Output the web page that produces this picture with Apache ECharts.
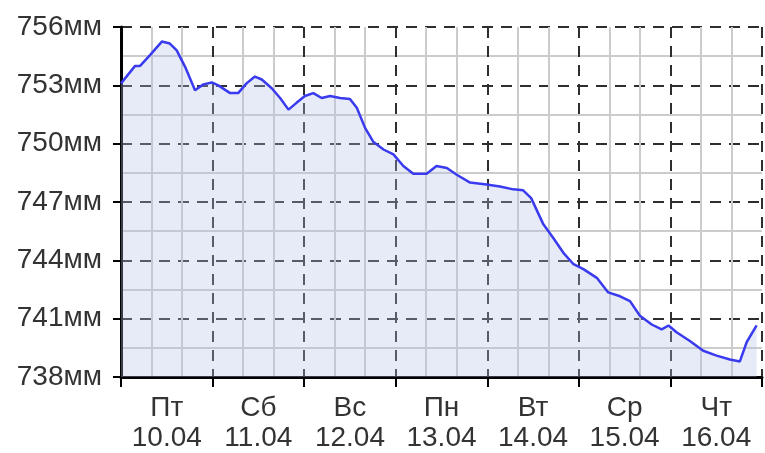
<!DOCTYPE html>
<html>
<head>
<meta charset="utf-8">
<script src="https://cdn.jsdelivr.net/npm/echarts@6/dist/echarts.min.js"></script>
<style>
  html, body { margin: 0; padding: 0; background: #fff; }
  #main { width: 765px; height: 453px; }
</style>
</head>
<body>
<div id="main"></div>
<script>
// hours from 10.04 00:00
const hours = [0, 3.7, 5, 7.6, 10.7, 12.8, 14.6, 16.8, 19.4, 21.6, 23.8, 25.5, 28.6, 30.7, 32.9, 35.1, 36.9,
  39.5, 41.7, 43.9, 46, 48.2, 50.4, 52.6, 54.8, 57.4, 60, 61.8, 64, 66.1, 68.8, 71.4, 74, 76.6, 80.1,
  82.7, 85.4, 88, 91.5, 95.8, 99.3, 102.8, 105.4, 107.5, 110.7, 113.3, 115.9, 118.6, 121.2, 124.7,
  127.7, 130.8, 133.4, 136, 139.1, 141.7, 143.5, 145.6, 149.1, 152.6, 156.1, 159.6, 162.2, 164, 166.6]
const pressure = [753.1, 754.0, 754.0, 754.55, 755.25, 755.15, 754.8, 753.95, 752.75, 753.05, 753.15, 753.0,
  752.6, 752.6, 753.1, 753.45, 753.3, 752.85, 752.35, 751.75, 752.1, 752.45, 752.6, 752.35, 752.45,
  752.35, 752.3, 751.85, 750.8, 750.1, 749.7, 749.45, 748.85, 748.45, 748.45, 748.85, 748.75, 748.4,
  748.0, 747.9, 747.8, 747.65, 747.6, 747.2, 745.85, 745.15, 744.4, 743.8, 743.55, 743.1, 742.35,
  742.15, 741.9, 741.15, 740.7, 740.45, 740.65, 740.3, 739.85, 739.35, 739.1, 738.9, 738.8, 739.8, 740.65]
const dayNames = ['Пт', 'Сб', 'Вс', 'Пн', 'Вт', 'Ср', 'Чт']
const dates = ['10.04', '11.04', '12.04', '13.04', '14.04', '15.04', '16.04']

const font = 'Liberation Sans, Arial, sans-serif'
const dashed = { color: '#2e2e2e', width: 2, type: [11, 8] }
const minor = { color: '#cccccc', width: 2 }

var chart = echarts.init(document.getElementById('main'))
var option = {
  animation: false,
  backgroundColor: '#fff',
  grid: { left: 121, right: 3, top: 27, bottom: 74 },
  xAxis: [
    {
      type: 'value',
      position: 'bottom',
      min: 0,
      max: 168,
      interval: 24,
      axisLine: { show: false },
      axisTick: { show: false },
      axisLabel: { show: false },
      splitLine: { show: true, lineStyle: dashed },
      minorTick: { show: false, splitNumber: 3 },
      minorSplitLine: { show: true, lineStyle: minor }
    },
    {
      type: 'category',
      position: 'bottom',
      boundaryGap: true,
      data: dayNames.map((d, i) => d + '\n' + dates[i]),
      axisLine: { show: true, lineStyle: { color: '#000', width: 3 } },
      axisTick: { show: true, length: 10, lineStyle: { color: '#000', width: 2 } },
      axisLabel: { margin: 16, color: '#333', fontFamily: font, fontSize: 28, lineHeight: 30 },
      splitLine: { show: false }
    }
  ],
  yAxis: {
    type: 'value',
    min: 738,
    max: 756,
    interval: 3,
    axisLine: { show: true, lineStyle: { color: '#000', width: 3 } },
    axisTick: { show: true, length: 8, lineStyle: { color: '#000', width: 2 } },
    axisLabel: { margin: 19, color: '#333', fontFamily: font, fontSize: 28, formatter: '{value}мм' },
    splitLine: { show: true, lineStyle: dashed },
    minorTick: { show: false, splitNumber: 2 },
    minorSplitLine: { show: true, lineStyle: minor }
  },
  series: [{
    type: 'line',
    xAxisIndex: 0,
    showSymbol: false,
    data: hours.map((h, i) => [h, pressure[i]]),
    lineStyle: { color: '#3a3aee', width: 2.5 },
    areaStyle: { color: 'rgba(178,192,230,0.45)', origin: 'start' }
  }]
}
chart.setOption(option)
</script>
</body>
</html>
